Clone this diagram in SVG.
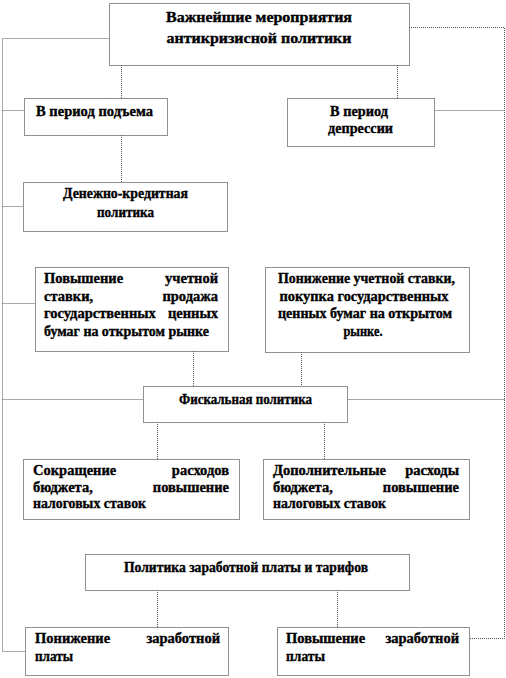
<svg xmlns="http://www.w3.org/2000/svg" width="506" height="678" viewBox="0 0 506 678">
<style>
.box{fill:#fff;stroke:#222;stroke-width:1;stroke-dasharray:1 1}
.ln{fill:none;stroke:#555;stroke-width:1;stroke-dasharray:1 1}
</style>
<rect width="506" height="678" fill="#fff"/>
<g id="connectors">
<polyline class="ln" points="109.5,38.5 2.5,38.5 2.5,651.5 25,651.5"/>
<polyline class="ln" points="409,27.5 504.5,27.5 504.5,638.5 469,638.5"/>
<line class="ln" x1="2.5" y1="110.5" x2="24" y2="110.5"/>
<line class="ln" x1="2.5" y1="206.5" x2="23" y2="206.5"/>
<line class="ln" x1="2.5" y1="303.5" x2="35" y2="303.5"/>
<line class="ln" x1="2.5" y1="399.5" x2="143" y2="399.5"/>
<line class="ln" x1="504.5" y1="110.5" x2="434" y2="110.5"/>
<line class="ln" x1="504.5" y1="399.5" x2="347" y2="399.5"/>
<line class="ln" x1="121.5" y1="65" x2="121.5" y2="98"/>
<line class="ln" x1="397.5" y1="65" x2="397.5" y2="98"/>
<line class="ln" x1="121.5" y1="135" x2="121.5" y2="182"/>
<line class="ln" x1="193.5" y1="351" x2="193.5" y2="386"/>
<line class="ln" x1="301.5" y1="352" x2="301.5" y2="386"/>
<line class="ln" x1="157.5" y1="422" x2="157.5" y2="459"/>
<line class="ln" x1="324.5" y1="422" x2="324.5" y2="459"/>
<line class="ln" x1="157.5" y1="590" x2="157.5" y2="627"/>
<line class="ln" x1="337.5" y1="590" x2="337.5" y2="627"/>
</g>
<g id="nodes" stroke="#000" stroke-width="0.35" fill="#000">
<g id="n-main">
<rect class="box" x="109.5" y="3.5" width="300" height="62"/>
<text font-family="'Liberation Serif', serif" font-weight="bold" font-size="14.5" text-anchor="middle" x="259" y="22" textLength="186" lengthAdjust="spacingAndGlyphs">Важнейшие мероприятия</text>
<text font-family="'Liberation Serif', serif" font-weight="bold" font-size="14.5" text-anchor="middle" x="259" y="43" textLength="185" lengthAdjust="spacingAndGlyphs">антикризисной  политики</text>
</g>
<g id="n-rise">
<rect class="box" x="24.5" y="98.5" width="143" height="37"/>
<text font-family="'Liberation Serif', serif" font-weight="bold" font-size="14.5" text-anchor="middle" x="94.5" y="116" textLength="117" lengthAdjust="spacingAndGlyphs">В период подъема</text>
</g>
<g id="n-depr">
<rect class="box" x="287.5" y="98.5" width="147" height="48"/>
<text font-family="'Liberation Serif', serif" font-weight="bold" font-size="14.5" text-anchor="middle" x="359" y="116" textLength="58" lengthAdjust="spacingAndGlyphs">В период</text>
<text font-family="'Liberation Serif', serif" font-weight="bold" font-size="14.5" text-anchor="middle" x="360.5" y="133" textLength="65" lengthAdjust="spacingAndGlyphs">депрессии</text>
</g>
<g id="n-monetary">
<rect class="box" x="23.5" y="182.5" width="204" height="49"/>
<text font-family="'Liberation Serif', serif" font-weight="bold" font-size="14.5" text-anchor="middle" x="125.5" y="198" textLength="125" lengthAdjust="spacingAndGlyphs">Денежно-кредитная</text>
<text font-family="'Liberation Serif', serif" font-weight="bold" font-size="14.5" text-anchor="middle" x="125.5" y="217" textLength="57" lengthAdjust="spacingAndGlyphs">политика</text>
</g>
<g id="n-raise-rate">
<rect class="box" x="35.5" y="267.5" width="193" height="84"/>
<text font-family="'Liberation Serif', serif" font-weight="bold" font-size="14.5" x="44" y="283">Повышение</text>
<text font-family="'Liberation Serif', serif" font-weight="bold" font-size="14.5" text-anchor="end" x="218" y="283">учетной</text>
<text font-family="'Liberation Serif', serif" font-weight="bold" font-size="14.5" x="44" y="301">ставки,</text>
<text font-family="'Liberation Serif', serif" font-weight="bold" font-size="14.5" text-anchor="end" x="218" y="301">продажа</text>
<text font-family="'Liberation Serif', serif" font-weight="bold" font-size="14.5" x="44" y="318">государственных</text>
<text font-family="'Liberation Serif', serif" font-weight="bold" font-size="14.5" text-anchor="end" x="218" y="318">ценных</text>
<text font-family="'Liberation Serif', serif" font-weight="bold" font-size="14.5" x="44" y="336" textLength="165" lengthAdjust="spacingAndGlyphs">бумаг на открытом рынке</text>
</g>
<g id="n-lower-rate">
<rect class="box" x="265.5" y="267.5" width="204" height="85"/>
<text font-family="'Liberation Serif', serif" font-weight="bold" font-size="14.5" text-anchor="middle" x="366.5" y="283" textLength="177" lengthAdjust="spacingAndGlyphs">Понижение учетной ставки,</text>
<text font-family="'Liberation Serif', serif" font-weight="bold" font-size="14.5" text-anchor="middle" x="364" y="301" textLength="169" lengthAdjust="spacingAndGlyphs">покупка государственных</text>
<text font-family="'Liberation Serif', serif" font-weight="bold" font-size="14.5" text-anchor="middle" x="365" y="318" textLength="174" lengthAdjust="spacingAndGlyphs">ценных бумаг на открытом</text>
<text font-family="'Liberation Serif', serif" font-weight="bold" font-size="14.5" text-anchor="middle" x="363" y="336" textLength="39" lengthAdjust="spacingAndGlyphs">рынке.</text>
</g>
<g id="n-fiscal">
<rect class="box" x="143.5" y="386.5" width="204" height="36"/>
<text font-family="'Liberation Serif', serif" font-weight="bold" font-size="14.5" text-anchor="middle" x="245.5" y="404" textLength="133" lengthAdjust="spacingAndGlyphs">Фискальная политика</text>
</g>
<g id="n-cut">
<rect class="box" x="23.5" y="459.5" width="216" height="60"/>
<text font-family="'Liberation Serif', serif" font-weight="bold" font-size="14.5" x="33" y="475">Сокращение</text>
<text font-family="'Liberation Serif', serif" font-weight="bold" font-size="14.5" text-anchor="end" x="229" y="475">расходов</text>
<text font-family="'Liberation Serif', serif" font-weight="bold" font-size="14.5" x="33" y="492">бюджета,</text>
<text font-family="'Liberation Serif', serif" font-weight="bold" font-size="14.5" text-anchor="end" x="229" y="492">повышение</text>
<text font-family="'Liberation Serif', serif" font-weight="bold" font-size="14.5" x="33" y="508" textLength="113" lengthAdjust="spacingAndGlyphs">налоговых ставок</text>
</g>
<g id="n-extra">
<rect class="box" x="263.5" y="459.5" width="206" height="60"/>
<text font-family="'Liberation Serif', serif" font-weight="bold" font-size="14.5" x="273" y="475">Дополнительные</text>
<text font-family="'Liberation Serif', serif" font-weight="bold" font-size="14.5" text-anchor="end" x="459" y="475">расходы</text>
<text font-family="'Liberation Serif', serif" font-weight="bold" font-size="14.5" x="273" y="492">бюджета,</text>
<text font-family="'Liberation Serif', serif" font-weight="bold" font-size="14.5" text-anchor="end" x="459" y="492">повышение</text>
<text font-family="'Liberation Serif', serif" font-weight="bold" font-size="14.5" x="273" y="508" textLength="113" lengthAdjust="spacingAndGlyphs">налоговых ставок</text>
</g>
<g id="n-wage">
<rect class="box" x="85.5" y="554.5" width="324" height="36"/>
<text font-family="'Liberation Serif', serif" font-weight="bold" font-size="14.5" text-anchor="middle" x="246" y="572" textLength="244" lengthAdjust="spacingAndGlyphs">Политика заработной платы и тарифов</text>
</g>
<g id="n-wage-down">
<rect class="box" x="25.5" y="627.5" width="203" height="48"/>
<text font-family="'Liberation Serif', serif" font-weight="bold" font-size="14.5" x="35" y="643">Понижение</text>
<text font-family="'Liberation Serif', serif" font-weight="bold" font-size="14.5" text-anchor="end" x="220" y="643">заработной</text>
<text font-family="'Liberation Serif', serif" font-weight="bold" font-size="14.5" x="35" y="661" textLength="38" lengthAdjust="spacingAndGlyphs">платы</text>
</g>
<g id="n-wage-up">
<rect class="box" x="277.5" y="627.5" width="192" height="48"/>
<text font-family="'Liberation Serif', serif" font-weight="bold" font-size="14.5" x="286" y="643">Повышение</text>
<text font-family="'Liberation Serif', serif" font-weight="bold" font-size="14.5" text-anchor="end" x="459" y="643">заработной</text>
<text font-family="'Liberation Serif', serif" font-weight="bold" font-size="14.5" x="286" y="661" textLength="39" lengthAdjust="spacingAndGlyphs">платы</text>
</g>
</g>
</svg>
